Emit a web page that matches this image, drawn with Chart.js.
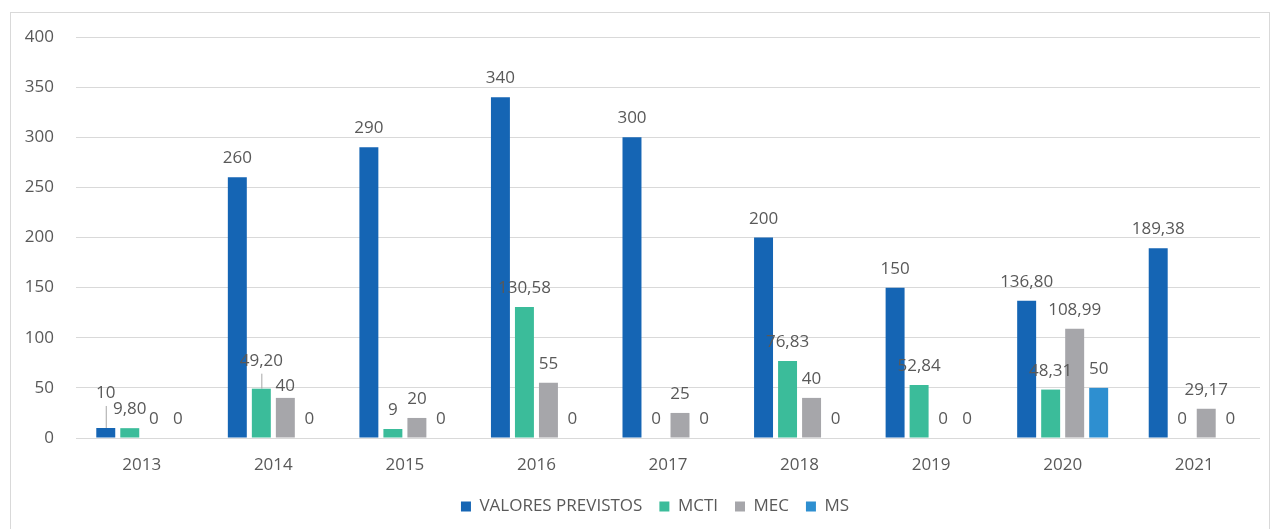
<!DOCTYPE html>
<html>
<head>
<meta charset="utf-8">
<script src="https://cdn.jsdelivr.net/npm/chart.js@4/dist/chart.umd.min.js"></script>
<style>
    html, body { margin: 0; padding: 0; background: #fff; }
    #wrap { position: relative; width: 1281px; height: 529px; overflow: hidden; }
    #frame { position: absolute; left: 10px; top: 12px; width: 1260px; height: 530px; border: 1px solid #d9d9d9; box-sizing: border-box; }
    #orcChart { position: absolute; left: 0; top: 0; }
</style>
</head>
<body>
<div id="wrap">
    <div id="frame"></div>
    <canvas id="orcChart" width="1281" height="529"></canvas>
</div>
<script>
const years = ['2013', '2014', '2015', '2016', '2017', '2018', '2019', '2020', '2021'];
const valoresPrevistos = [10, 260, 290, 340, 300, 200, 150, 136.80, 189.38];
const mcti = [9.80, 49.20, 9, 130.58, 0, 76.83, 52.84, 48.31, 0];
const mec = [0, 40, 20, 55, 25, 40, 0, 108.99, 29.17];
const ms = [0, 0, 0, 0, 0, 0, 0, 50, 0];
const yTicks = [0, 50, 100, 150, 200, 250, 300, 350, 400];

const textColor = '#595959';
const fontFamily = "'Open Sans', 'Liberation Sans', sans-serif";

// labels that Excel moved a bit: [dataset, index, dy]
const labelNudges = [[0, 0, -16], [1, 1, -9], [2, 1, 7]];

function fmt(v) {
    if (Number.isInteger(v)) return String(v);
    return v.toFixed(2).replace('.', ',');
}

const valueLabels = {
    id: 'valueLabels',
    afterDatasetsDraw(chart) {
        const ctx = chart.ctx;
        ctx.save();
        ctx.font = '17px ' + fontFamily;
        ctx.fillStyle = textColor;
        ctx.textAlign = 'center';
        ctx.textBaseline = 'alphabetic';
        chart.data.datasets.forEach((ds, di) => {
            const meta = chart.getDatasetMeta(di);
            meta.data.forEach((bar, i) => {
                let dy = 0;
                labelNudges.forEach(n => { if (n[0] === di && n[1] === i) dy = n[2]; });
                const ty = bar.y - 14 + dy;
                ctx.fillText(fmt(ds.data[i]), bar.x, ty);
                if (dy < -8) {
                    ctx.strokeStyle = '#a6a6a6';
                    ctx.lineWidth = 1;
                    ctx.beginPath();
                    ctx.moveTo(bar.x + 0.5, ty + 8);
                    ctx.lineTo(bar.x + 0.5, bar.y);
                    ctx.stroke();
                }
            });
        });
        ctx.restore();
    }
};

// the legend in the original sits a bit right of the canvas centre
const shiftLegend = {
    id: 'shiftLegend',
    afterLayout(chart) {
        if (chart.legend) {
            chart.legend.left += 25;
            chart.legend.right += 25;
        }
    }
};

function createChart() {
    const ctx = document.getElementById('orcChart').getContext('2d');
    new Chart(ctx, {
        type: 'bar',
        data: {
            labels: years,
            datasets: [
                { label: 'VALORES PREVISTOS', data: valoresPrevistos, backgroundColor: '#1565b4' },
                { label: 'MCTI', data: mcti, backgroundColor: '#3bbc9a' },
                { label: 'MEC', data: mec, backgroundColor: '#a6a6aa' },
                { label: 'MS', data: ms, backgroundColor: '#2e8fd0' }
            ]
        },
        options: {
            responsive: false,
            animation: false,
            datasets: {
                bar: { categoryPercentage: 0.73, barPercentage: 0.79 }
            },
            layout: { padding: { left: 0, right: 21, top: 37, bottom: 4 } },
            plugins: {
                tooltip: { enabled: false },
                legend: {
                    position: 'bottom',
                    labels: {
                        boxWidth: 10,
                        boxHeight: 10,
                        padding: 17,
                        color: textColor,
                        font: { family: fontFamily, size: 17 }
                    }
                }
            },
            scales: {
                x: {
                    grid: { display: false },
                    border: { display: false },
                    ticks: { color: textColor, padding: 9, font: { family: fontFamily, size: 17 } },
                    afterFit: scale => { scale.height = 43; }
                },
                y: {
                    min: 0,
                    max: 400,
                    afterBuildTicks: scale => { scale.ticks = yTicks.map(v => ({ value: v })); },
                    grid: { color: '#d9d9d9', drawTicks: false },
                    border: { display: false },
                    ticks: { color: textColor, padding: 22, font: { family: fontFamily, size: 17 } },
                    afterFit: scale => { scale.width = 76; }
                }
            }
        },
        plugins: [valueLabels, shiftLegend]
    });
}

window.onload = createChart;
</script>
</body>
</html>
